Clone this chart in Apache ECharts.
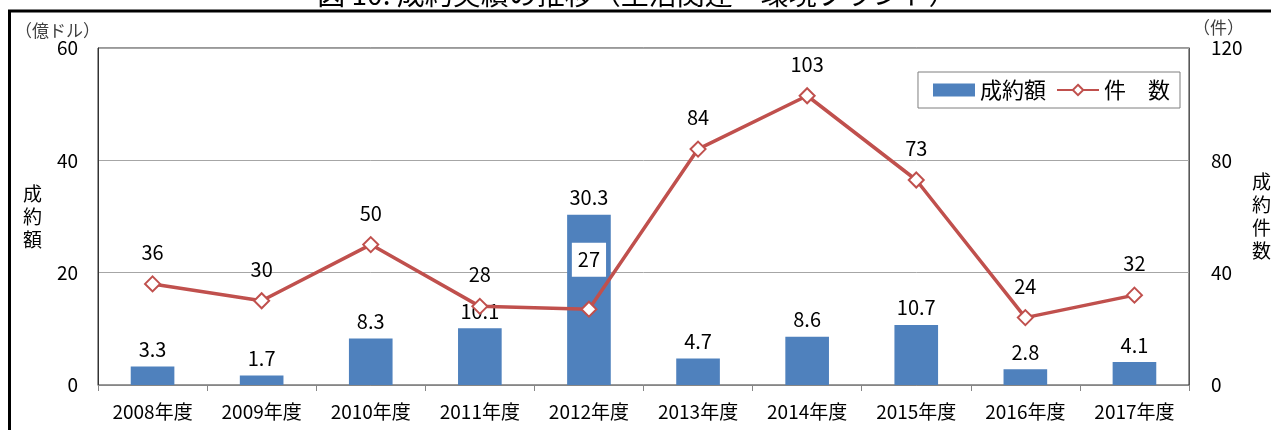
<!DOCTYPE html>
<html>
<head>
<meta charset="utf-8">
<script src="https://cdn.jsdelivr.net/npm/echarts@6/dist/echarts.min.js"></script>
<style>
  html, body { margin: 0; padding: 0; background: #fff; }
  #chart { width: 1271px; height: 430px; }
</style>
</head>
<body>
<div id="chart"></div>
<script>
// 年度
const categories = ['2008年度', '2009年度', '2010年度', '2011年度', '2012年度', '2013年度', '2014年度', '2015年度', '2016年度', '2017年度']
// 成約額（億ドル）
const amountValues = [3.3, 1.7, 8.3, 10.1, 30.3, 4.7, 8.6, 10.7, 2.8, 4.1]
// 件数
const countValues = [36, 30, 50, 28, 27, 84, 103, 73, 24, 32]
const leftTicks = [0, 20, 40, 60]
const rightTicks = [0, 40, 80, 120]

const FONT = '"Noto Sans CJK JP", "Noto Sans", sans-serif'
const BAR_COLOR = '#4F81BD'
const LINE_COLOR = '#C0504D'

let myChart = echarts.init(document.getElementById('chart'))

// 2012年度の件数ラベルは棒の上に白地で表示
const countData = countValues.map((v, i) => {
  if (i === 4) {
    return {
      value: v,
      label: { backgroundColor: '#fff', padding: [7, 6], distance: 24 }
    }
  }
  return v
})

var option = {
  backgroundColor: '#fff',
  animation: false,
  textStyle: { fontFamily: FONT },
  grid: {
    left: 98,
    right: 82,
    top: 48,
    bottom: 45,
    show: true,
    borderColor: '#333',
    borderWidth: 1
  },
  legend: {
    right: 91,
    top: 72,
    backgroundColor: '#fff',
    borderColor: '#7f7f7f',
    borderWidth: 1,
    padding: [7, 10, 7, 15],
    itemGap: 10,
    itemWidth: 42,
    itemHeight: 13,
    textStyle: { fontSize: 22, color: '#000', fontFamily: FONT },
    data: [
      { name: '成約額', icon: 'rect' },
      { name: '件　数' }
    ]
  },
  xAxis: {
    type: 'category',
    data: categories,
    axisLine: { lineStyle: { color: '#868686', width: 1 } },
    axisTick: { show: true, length: 6, lineStyle: { color: '#868686' } },
    axisLabel: { color: '#000', fontSize: 19, margin: 17, fontFamily: FONT }
  },
  yAxis: [
    {
      type: 'value',
      min: 0,
      max: 60,
      interval: 20,
      axisLine: { show: true, lineStyle: { color: '#333' } },
      axisTick: { show: false },
      splitLine: { lineStyle: { color: '#a6a6a6', width: 1 } },
      axisLabel: {
        color: '#000', fontSize: 19, margin: 20, fontFamily: FONT,
        customValues: leftTicks
      }
    },
    {
      type: 'value',
      min: 0,
      max: 120,
      interval: 40,
      axisLine: { show: true, lineStyle: { color: '#595959' } },
      axisTick: { show: false },
      splitLine: { show: false },
      axisLabel: {
        color: '#000', fontSize: 19, margin: 22, fontFamily: FONT,
        customValues: rightTicks
      }
    }
  ],
  series: [
    {
      name: '成約額',
      type: 'bar',
      barWidth: '40%',
      yAxisIndex: 0,
      itemStyle: { color: BAR_COLOR },
      label: {
        show: true,
        position: 'top',
        distance: 7,
        color: '#000',
        fontSize: 20,
        fontFamily: FONT
      },
      data: amountValues
    },
    {
      name: '件　数',
      type: 'line',
      yAxisIndex: 1,
      z: 5,
      symbol: 'diamond',
      symbolSize: 15,
      lineStyle: { color: LINE_COLOR, width: 3.5 },
      itemStyle: { color: '#fff', borderColor: LINE_COLOR, borderWidth: 2 },
      label: {
        show: true,
        position: 'top',
        distance: 13,
        color: '#000',
        fontSize: 20,
        fontFamily: FONT
      },
      data: countData
    }
  ],
  graphic: [
    // 外枠
    {
      type: 'rect',
      shape: { x: 9.5, y: 11, width: 1400, height: 600 },
      style: { fill: 'none', stroke: '#000', lineWidth: 3 },
      silent: true
    },
    // タイトル（上端で切れている）
    {
      type: 'text',
      x: 637,
      y: 8,
      style: {
        text: '図 10. 成約実績の推移（生活関連・環境プラント）',
        font: '28px ' + FONT,
        fill: '#000',
        textAlign: 'center',
        textVerticalAlign: 'bottom'
      }
    },
    {
      type: 'text',
      x: 15,
      y: 22,
      style: { text: '（億ドル）', font: '17px ' + FONT, fill: '#404040', textAlign: 'left' }
    },
    {
      type: 'text',
      x: 1193,
      y: 19,
      style: { text: '（件）', font: '17px ' + FONT, fill: '#404040', textAlign: 'left' }
    },
    {
      type: 'text',
      x: 23,
      y: 182,
      style: { text: '成\n約\n額', font: '19px ' + FONT, fill: '#000', lineHeight: 23 }
    },
    {
      type: 'text',
      x: 1252,
      y: 170,
      style: { text: '成\n約\n件\n数', font: '19px ' + FONT, fill: '#000', lineHeight: 23 }
    }
  ]
}

myChart.setOption(option)
</script>
</body>
</html>
